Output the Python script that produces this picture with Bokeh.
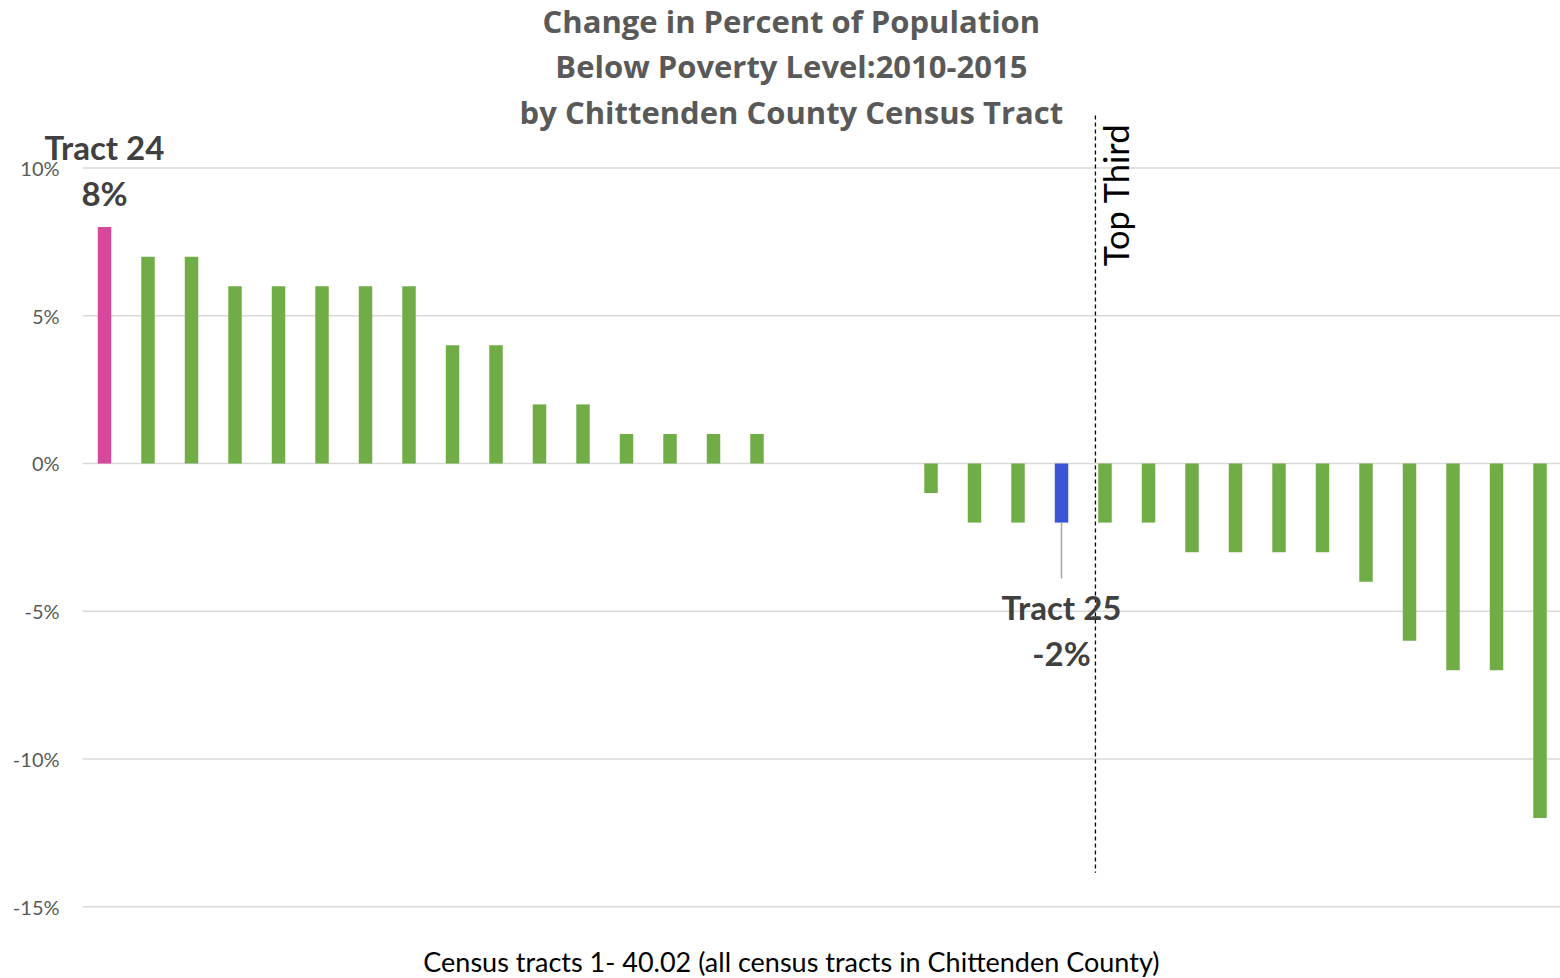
import math
from bokeh.plotting import figure
from bokeh.models import Range1d, Label, ColumnDataSource
from bokeh.core.properties import value
from bokeh.embed import file_html
from bokeh.resources import INLINE

# Change in percent of population below poverty level, 2010-2015,
# one value per census tract, sorted from largest increase to largest decrease
change_pct = [8, 7, 7, 6, 6, 6, 6, 6, 4, 4, 2, 2, 1, 1, 1, 1, 0, 0, 0,
              -1, -2, -2, -2, -2, -2, -3, -3, -3, -3, -4, -6, -7, -7, -12]

# Called-out tracts (position in the sorted list)
callout_names = ["Tract 24", "Tract 25"]
callout_index = [0, 22]
callout_colors = ["#D6489C", "#3B55D6"]

y_ticks = [-15, -10, -5, 0, 5, 10]
y_tick_labels = ["-15%", "-10%", "-5%", "0%", "5%", "10%"]

title_lines = ["Change in Percent of Population",
               "Below Poverty Level:2010-2015",
               "by Chittenden County Census Tract"]
x_label = "Census tracts 1- 40.02 (all census tracts in Chittenden County)"
divider_text = "Top Third"
divider_pos = 22.78

GREEN = "#70AD47"
FONT = "Lato"
TITLE_FONT = "Open Sans"

n = len(change_pct)
xs = list(range(n))
colors = [GREEN] * n
for i, c in zip(callout_index, callout_colors):
    colors[i] = c

src = ColumnDataSource(dict(x=xs, top=change_pct, color=colors))

# Frame covers the whole canvas; the value axis is drawn by hand on the left
x_lo = -2.391
p = figure(width=1560, height=978, output_backend="svg", toolbar_location=None,
           x_range=Range1d(x_lo, n - 0.529), y_range=Range1d(-17.43, 15.67),
           x_axis_location=None, y_axis_location=None,
           min_border_left=0, min_border_right=0, min_border_top=0, min_border_bottom=0)
p.outline_line_color = None
p.background_fill_color = "white"
p.border_fill_color = "white"
p.xgrid.grid_line_color = None
p.ygrid.grid_line_color = None

# Horizontal gridlines across the category area
grid_src = ColumnDataSource(dict(
    x0=[-0.506] * len(y_ticks), x1=[n - 0.5] * len(y_ticks), y=y_ticks))
p.segment(x0="x0", y0="y", x1="x1", y1="y", source=grid_src,
          line_color="#D9D9D9", line_width=1.5)

# Tick labels
tick_src = ColumnDataSource(dict(x=[-1.034] * len(y_ticks), y=y_ticks, t=y_tick_labels))
p.text(x="x", y="y", text="t", source=tick_src, text_font=value(FONT),
       text_font_size="20px", text_color="#595959",
       text_align="right", text_baseline="middle")

p.vbar(x="x", top="top", bottom=0, width=0.31, fill_color="color",
       line_color=None, source=src)

# Dashed divider marking the top third
p.segment(x0=[divider_pos], y0=[11.78], x1=[divider_pos], y1=[-13.85],
          line_color="black", line_width=1.3, line_dash="4 3")
p.add_layout(Label(x=divider_pos + 0.45, y=6.68, text=divider_text, angle=math.pi / 2,
                   text_font=FONT, text_font_size="34.5px", text_color="black",
                   text_align="left", text_baseline="middle"))

# Call-outs
top_i = callout_index[0]
top_v = change_pct[top_i]
p.add_layout(Label(x=top_i, y=top_v + 2.7, text=callout_names[0], text_font=FONT,
                   text_font_style="bold", text_font_size="33px", text_color="#404040",
                   text_align="center", text_baseline="middle"))
p.add_layout(Label(x=top_i, y=top_v + 1.14, text=f"{top_v}%", text_font=FONT,
                   text_font_style="bold", text_font_size="33px", text_color="#404040",
                   text_align="center", text_baseline="middle"))

low_i = callout_index[1]
low_v = change_pct[low_i]
p.segment(x0=[low_i], y0=[low_v], x1=[low_i], y1=[low_v - 1.89],
          line_color="#A6A6A6", line_width=1.5)
p.add_layout(Label(x=low_i, y=low_v - 2.87, text=callout_names[1], text_font=FONT,
                   text_font_style="bold", text_font_size="33px", text_color="#404040",
                   text_align="center", text_baseline="middle"))
p.add_layout(Label(x=low_i, y=low_v - 4.40, text=f"{low_v}%", text_font=FONT,
                   text_font_style="bold", text_font_size="33px", text_color="#404040",
                   text_align="center", text_baseline="middle"))

# Title, three centred lines
for line, yy in zip(title_lines, [14.96, 13.44, 11.88]):
    p.add_layout(Label(x=15.79, y=yy, text=line, text_font=TITLE_FONT,
                       text_font_style="bold", text_font_size="31px",
                       text_color="#595959", text_align="center", text_baseline="middle"))

p.add_layout(Label(x=15.79, y=-16.84, text=x_label, text_font=FONT,
                   text_font_size="27px", text_color="black",
                   text_align="center", text_baseline="middle"))

open("out.html", "w").write(file_html(p, INLINE))
